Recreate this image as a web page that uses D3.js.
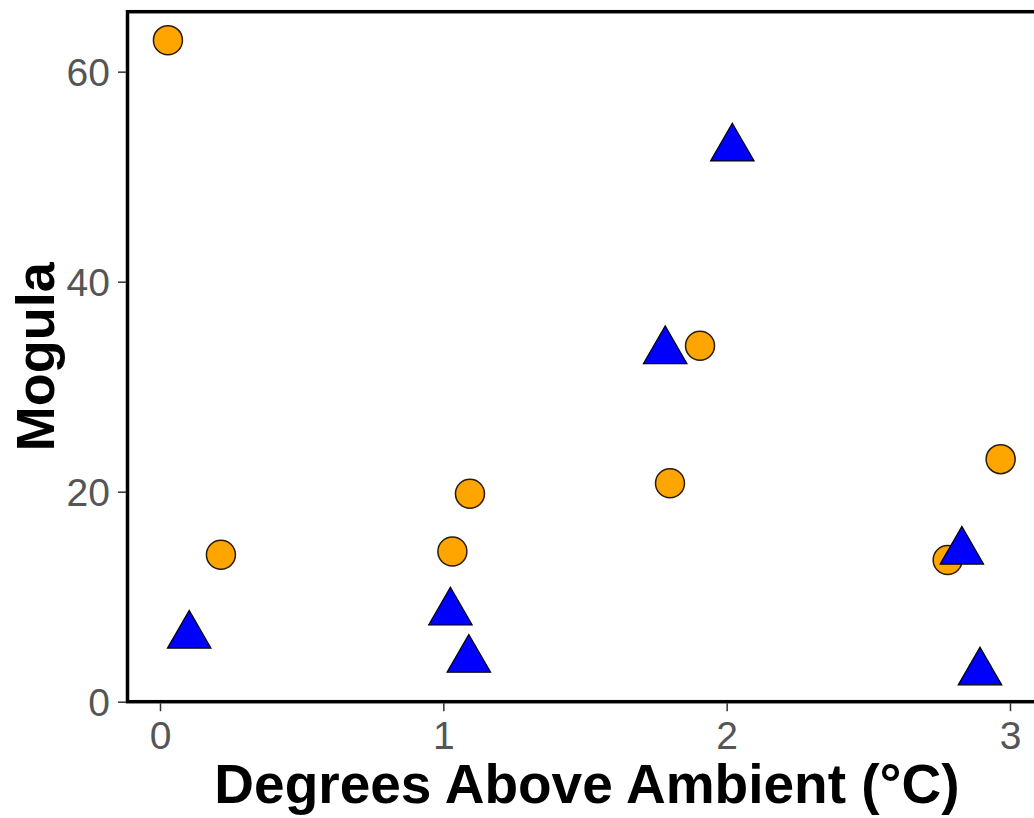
<!DOCTYPE html>
<html>
<head>
<meta charset="utf-8">
<script src="https://cdn.jsdelivr.net/npm/d3@7"></script>
<style>
  html, body { margin: 0; padding: 0; background: #fff; }
  svg { display: block; }
  text { font-family: "Liberation Sans", Arial, Helvetica, sans-serif; }
</style>
</head>
<body>
<svg id="chart" width="1034" height="818"></svg>
<script>
// ---- data ----
const circleX = [0.028, 0.215, 1.032, 1.094, 1.80, 1.906, 2.78, 2.967];
const circleY = [63.0, 14.0, 14.3, 19.8, 20.8, 33.9, 13.5, 23.1];
const triangleX = [0.103, 1.025, 1.090, 1.783, 2.020, 2.830, 2.894];
const triangleY = [6.3, 8.5, 4.0, 33.4, 52.7, 14.3, 2.8];
const xTicks = [0, 1, 2, 3];
const yTicks = [0, 20, 40, 60];
const xTitle = "Degrees Above Ambient (°C)";
const yTitle = "Mogula";

// ---- layout ----
const svg = d3.select("#chart");
const pLeft = 127.5, pRight = 1047.5, pTop = 11.7, pBottom = 701.7;
const x = d3.scaleLinear().domain([-0.1147, 3.1324]).range([pLeft, pRight]);
const y = d3.scaleLinear().domain([0, 65.71]).range([pBottom, pTop]);

// panel border
svg.append("rect")
  .attr("x", pLeft).attr("y", pTop)
  .attr("width", pRight - pLeft).attr("height", pBottom - pTop)
  .attr("fill", "none").attr("stroke", "#000").attr("stroke-width", 3.5);

// axes
const xAxis = d3.axisBottom(x).tickValues(xTicks).tickSize(8).tickPadding(10).tickFormat(d3.format("d"));
const yAxis = d3.axisLeft(y).tickValues(yTicks).tickSize(8).tickPadding(8).tickFormat(d3.format("d"));

const gx = svg.append("g").attr("transform", `translate(0,${pBottom + 1.5})`).call(xAxis);
const gy = svg.append("g").attr("transform", `translate(${pLeft - 1.5},0)`).call(yAxis);
[gx, gy].forEach(g => {
  g.select(".domain").remove();
  g.selectAll(".tick line").attr("stroke", "#333").attr("stroke-width", 1.5);
  g.selectAll(".tick text").attr("fill", "#555555").style("font-size", "39px");
});
gx.selectAll(".tick text").attr("dy", "0.71em");
gy.selectAll(".tick text").attr("dy", "0.36em");

// points
const circles = circleX.map((v, i) => ({x: v, y: circleY[i]}));
const triangles = triangleX.map((v, i) => ({x: v, y: triangleY[i]}));

svg.append("g").selectAll("circle").data(circles).join("circle")
  .attr("cx", d => x(d.x)).attr("cy", d => y(d.y)).attr("r", 14.5)
  .attr("fill", "#FFA500").attr("stroke", "#2b1d0a").attr("stroke-width", 1.5);

const tri = d3.symbol().type(d3.symbolTriangle).size(820);
svg.append("g").selectAll("path").data(triangles).join("path")
  .attr("d", tri)
  .attr("transform", d => `translate(${x(d.x)},${y(d.y)})`)
  .attr("fill", "#0000FF").attr("stroke", "#000").attr("stroke-width", 1.2);

// titles
svg.append("text")
  .attr("x", 587).attr("y", 803)
  .attr("text-anchor", "middle")
  .style("font-size", "55px").style("font-weight", "bold").attr("fill", "#000")
  .text(xTitle);

svg.append("text")
  .attr("transform", `translate(54,${(pTop + pBottom) / 2}) rotate(-90)`)
  .attr("text-anchor", "middle")
  .style("font-size", "54px").style("font-weight", "bold").attr("fill", "#000")
  .text(yTitle);
</script>
</body>
</html>
